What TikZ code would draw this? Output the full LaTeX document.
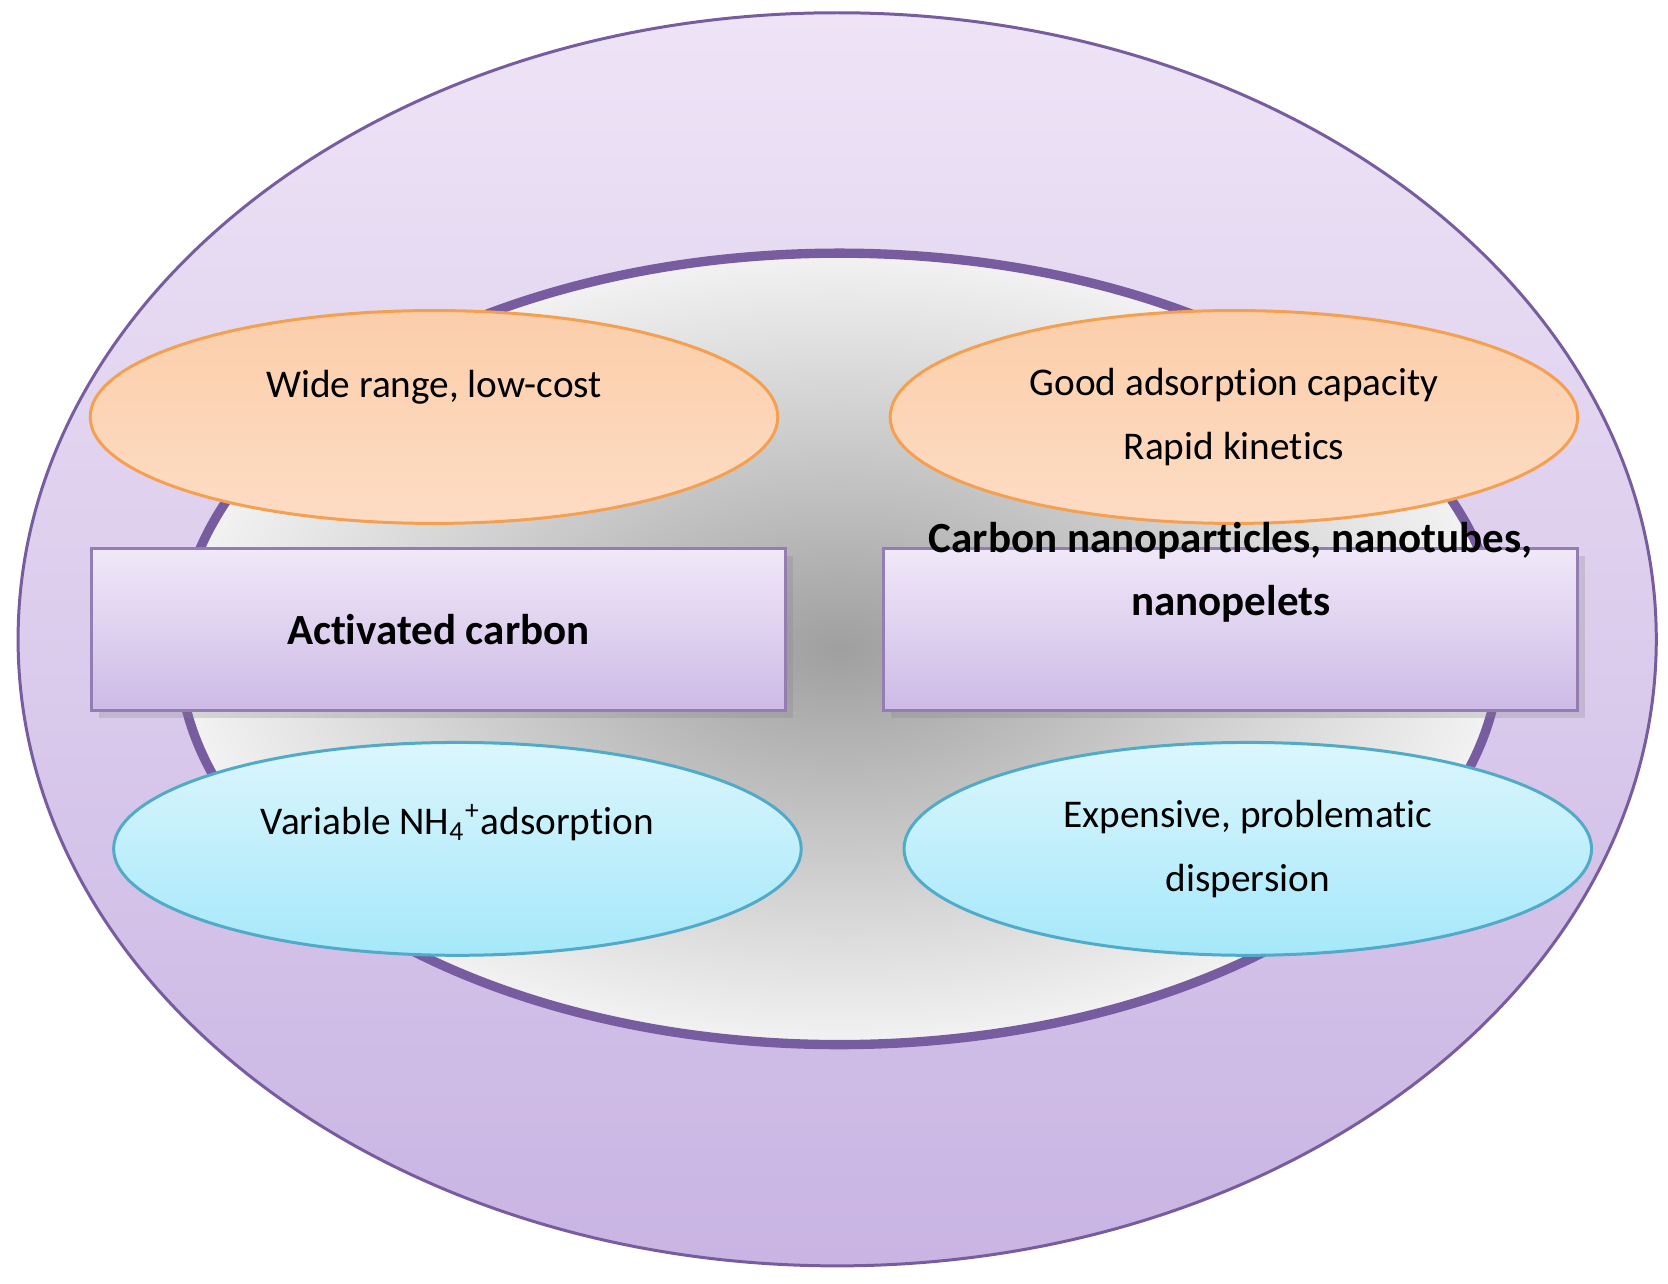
\documentclass[tikz,border=0pt]{standalone}
\usepackage{fontspec}
\setmainfont{Carlito}[Ligatures=NoCommon]
\definecolor{pTop}{RGB}{238,228,246}
\definecolor{pBot}{RGB}{201,180,227}
\definecolor{pLine}{RGB}{120,92,160}
\definecolor{oTop}{RGB}{251,206,170}
\definecolor{oBot}{RGB}{253,220,196}
\definecolor{oLine}{RGB}{245,160,80}
\definecolor{cTop}{RGB}{220,246,253}
\definecolor{cBot}{RGB}{165,232,250}
\definecolor{cLine}{RGB}{80,170,200}
\definecolor{rTop}{RGB}{240,232,248}
\definecolor{rBot}{RGB}{205,186,230}
\usetikzlibrary{shapes.geometric,shadows}
\tikzset{
 ov/.style={ellipse,minimum width=6.46cm,minimum height=2cm,align=center,font=\fontsize{10.5}{17}\selectfont},
 org/.style={ov,draw=oLine,top color=oTop,bottom color=oBot,thick},
 cy/.style={ov,draw=cLine,top color=cTop,bottom color=cBot,thick},
 rbox/.style={rectangle,minimum width=6.52cm,minimum height=1.52cm,align=center,draw=pLine!80,thick,
   top color=rTop,bottom color=rBot,font=\bfseries\fontsize{11.5}{17}\selectfont,
   drop shadow={opacity=0.25,shadow xshift=2pt,shadow yshift=-2pt}}
}
\begin{document}
\begin{tikzpicture}[x=0.01cm,y=-0.01cm]
\useasboundingbox (0,0) rectangle (1568,1207);
\fill[top color=pTop,bottom color=pBot,draw=pLine,thick] (787,601) ellipse[x radius=770,y radius=589];
\shade[inner color=gray!75,outer color=gray!10,draw=pLine,line width=2.5pt] (789,610) ellipse[x radius=621,y radius=372];
\node[org] (a) at (408,392) {\raisebox{0pt}[0pt][0.36cm]{Wide range, low-cost}};
\node[org] (b) at (1160,392) {Good adsorption capacity\\Rapid kinetics};
\node[rbox] (c) at (412,592) {Activated carbon};
\node[rbox] (d) at (1157,592) {\raisebox{0pt}[0pt][0.26cm]{\begin{tabular}[b]{@{}c@{}}Carbon nanoparticles, nanotubes,\\nanopelets\end{tabular}}};
\node[cy] (e) at (430,798) {\raisebox{0pt}[0pt][0.27cm]{Variable NH\textsubscript{4}\textsuperscript{+}adsorption}};
\node[cy] (f) at (1173,798) {Expensive, problematic\\dispersion};
\end{tikzpicture}
\end{document}
